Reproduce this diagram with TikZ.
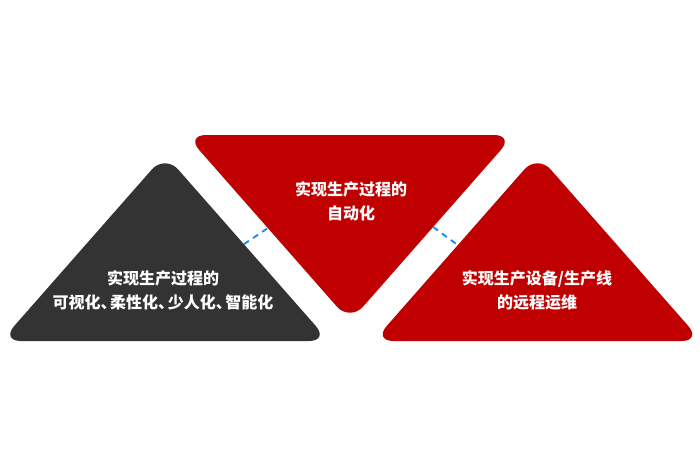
\documentclass[tikz,border=0pt]{standalone}
\usepackage{fontspec}
\usepackage{xcolor}
\usepackage{tikz}
\usetikzlibrary{calc}
\newfontfamily\cjk{Noto Sans CJK SC}
\definecolor{hongse}{RGB}{192,0,0}
\definecolor{shenhui}{RGB}{51,51,51}
\definecolor{xulan}{RGB}{24,144,232}
\newcommand{\dun}{\makebox[0.6em][l]{、}}

\begin{document}
\begin{tikzpicture}[x=1pt, y=-1pt,
		jiao/.style={rounded corners=20pt},
		wenzi/.style={text=white, align=center, font=\cjk\bfseries\fontsize{16}{24}\selectfont},
		xuxian/.style={xulan, line width=1.9pt, dash pattern=on 6pt off 5pt}]
			\useasboundingbox (0,0) rectangle (700,467);
			
			%% Zuo (dark)
			\coordinate (L-top) at (165,154.5);
			\coordinate (L-right) at (329,341);
			\coordinate (L-left) at (1,341);
			\fill[shenhui, jiao] (L-top) -- (L-right) -- (L-left) -- cycle;
			
			%% Zhong (red, down)
			\coordinate (M-left) at (186,135);
			\coordinate (M-right) at (514,135);
			\coordinate (M-bot) at (350,321.5);
			\fill[hongse, jiao] (M-bot) -- (M-left) -- (M-right) -- cycle;
			
			%% You (red, up)
			\coordinate (R-top) at (537.5,154.5);
			\coordinate (R-right) at (701.5,341);
			\coordinate (R-left) at (373.5,341);
			\fill[hongse, jiao] (R-top) -- (R-right) -- (R-left) -- cycle;
			
			%% xu xian
			\coordinate (d1a) at ($(L-top)!0.481!(L-right)$);
			\coordinate (d1b) at ($(M-left)!0.499!(M-bot)$);
			\coordinate (d2a) at ($(M-right)!0.493!(M-bot)$);
			\coordinate (d2b) at ($(R-top)!0.486!(R-left)$);
			\draw[xuxian] (d1a) -- (d1b);
			\draw[xuxian] (d2a) -- (d2b);
			
			%% wenzi
			\node[wenzi] (t-zuo) at (163,290) {实现生产过程的\\可视化\dun 柔性化\dun 少人化\dun 智能化};
			\node[wenzi] (t-zhong) at (351,201.5) {实现生产过程的\\自动化};
			\node[wenzi] (t-you) at (537,290) {实现生产设备/生产线\\的远程运维};
		\end{tikzpicture}
\end{document}
